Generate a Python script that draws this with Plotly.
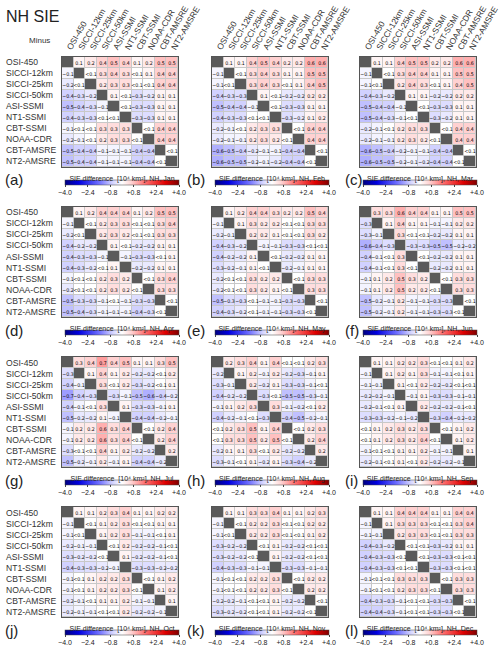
import plotly.graph_objects as go

products = ["OSI-450", "SICCI-12km", "SICCI-25km", "SICCI-50km", "ASI-SSMI",
            "NT1-SSMI", "CBT-SSMI", "NOAA-CDR", "CBT-AMSRE", "NT2-AMSRE"]
months = ["Jan", "Feb", "Mar", "Apr", "May", "Jun",
          "Jul", "Aug", "Sep", "Oct", "Nov", "Dec"]
letters = ["(a)", "(b)", "(c)", "(d)", "(e)", "(f)",
           "(g)", "(h)", "(i)", "(j)", "(k)", "(l)"]
cbar_ticks = [-4.0, -2.4, -0.8, 0.8, 2.4, 4.0]
cbar_ticktext = ["\u22124.0", "\u22122.4", "\u22120.8", "+0.8", "+2.4", "+4.0"]

# "" = diagonal (same product)
jan = [
    ["", "0.1", "0.2", "0.4", "0.5", "0.4", "0.1", "0.2", "0.5", "0.5"],
    ["-0.1", "", "<0.1", "0.3", "0.4", "0.3", "<0.1", "0.1", "0.4", "0.4"],
    ["-0.2", "<0.1", "", "0.2", "0.3", "0.3", "<0.1", "<0.1", "0.4", "0.4"],
    ["-0.4", "-0.3", "-0.2", "", "0.1", "<0.1", "-0.3", "-0.2", "0.1", "0.1"],
    ["-0.5", "-0.4", "-0.3", "-0.1", "", "<0.1", "-0.3", "-0.3", "0.1", "0.1"],
    ["-0.4", "-0.3", "-0.3", "<0.1", "<0.1", "", "-0.3", "-0.3", "0.1", "0.1"],
    ["-0.1", "<0.1", "<0.1", "0.3", "0.3", "0.3", "", "<0.1", "0.4", "0.4"],
    ["-0.2", "-0.1", "<0.1", "0.2", "0.3", "0.3", "<0.1", "", "0.4", "0.4"],
    ["-0.5", "-0.4", "-0.4", "-0.1", "-0.1", "-0.1", "-0.4", "-0.4", "", "<0.1"],
    ["-0.5", "-0.4", "-0.4", "-0.1", "-0.1", "-0.1", "-0.4", "-0.4", "<0.1", ""],
]
feb = [
    ["", "0.1", "0.1", "0.4", "0.5", "0.4", "0.2", "0.2", "0.6", "0.6"],
    ["-0.1", "", "<0.1", "0.3", "0.4", "0.3", "0.1", "0.1", "0.5", "0.5"],
    ["-0.1", "<0.1", "", "0.3", "0.4", "0.3", "<0.1", "0.1", "0.4", "0.5"],
    ["-0.4", "-0.3", "-0.3", "", "0.1", "<0.1", "-0.2", "-0.2", "0.2", "0.2"],
    ["-0.5", "-0.4", "-0.4", "-0.1", "", "<0.1", "-0.3", "-0.3", "0.1", "0.1"],
    ["-0.4", "-0.3", "-0.3", "<0.1", "<0.1", "", "-0.3", "-0.2", "0.1", "0.2"],
    ["-0.2", "-0.1", "<0.1", "0.2", "0.3", "0.3", "", "<0.1", "0.4", "0.4"],
    ["-0.2", "-0.1", "-0.1", "0.2", "0.3", "0.2", "<0.1", "", "0.4", "0.4"],
    ["-0.6", "-0.5", "-0.4", "-0.2", "-0.1", "-0.1", "-0.4", "-0.4", "", "<0.1"],
    ["-0.6", "-0.5", "-0.5", "-0.2", "-0.1", "-0.2", "-0.4", "-0.4", "<0.1", ""],
]
mar = [
    ["", "0.1", "0.1", "0.4", "0.5", "0.5", "0.2", "0.2", "0.6", "0.6"],
    ["-0.1", "", "<0.1", "0.3", "0.4", "0.4", "0.1", "0.1", "0.5", "0.5"],
    ["-0.1", "<0.1", "", "0.2", "0.4", "0.3", "<0.1", "0.1", "0.4", "0.5"],
    ["-0.4", "-0.3", "-0.2", "", "0.1", "0.1", "-0.2", "-0.2", "0.2", "0.2"],
    ["-0.5", "-0.4", "-0.4", "-0.1", "", "<0.1", "-0.3", "-0.3", "0.1", "0.1"],
    ["-0.5", "-0.4", "-0.3", "-0.1", "<0.1", "", "-0.3", "-0.2", "0.1", "0.1"],
    ["-0.2", "-0.1", "<0.1", "0.2", "0.3", "0.3", "", "<0.1", "0.4", "0.4"],
    ["-0.2", "-0.1", "-0.1", "0.2", "0.3", "0.2", "<0.1", "", "0.4", "0.4"],
    ["-0.6", "-0.5", "-0.4", "-0.2", "-0.1", "-0.1", "-0.4", "-0.4", "", "<0.1"],
    ["-0.6", "-0.5", "-0.5", "-0.2", "-0.1", "-0.2", "-0.4", "-0.4", "<0.1", ""],
]
apr = [
    ["", "0.1", "0.2", "0.4", "0.4", "0.4", "0.1", "0.2", "0.5", "0.5"],
    ["-0.1", "", "<0.1", "0.2", "0.3", "0.3", "<0.1", "<0.1", "0.3", "0.4"],
    ["-0.2", "<0.1", "", "0.2", "0.3", "0.2", "<0.1", "<0.1", "0.3", "0.3"],
    ["-0.4", "-0.2", "-0.2", "", "0.1", "<0.1", "-0.2", "-0.2", "0.1", "0.1"],
    ["-0.4", "-0.3", "-0.3", "-0.1", "", "-0.1", "-0.3", "-0.3", "<0.1", "0.1"],
    ["-0.4", "-0.3", "-0.2", "<0.1", "0.1", "", "-0.2", "-0.2", "0.1", "0.1"],
    ["-0.1", "<0.1", "<0.1", "0.2", "0.3", "0.2", "", "<0.1", "0.3", "0.4"],
    ["-0.2", "<0.1", "<0.1", "0.2", "0.3", "0.2", "<0.1", "", "0.3", "0.3"],
    ["-0.5", "-0.3", "-0.3", "-0.1", "<0.1", "-0.1", "-0.3", "-0.3", "", "<0.1"],
    ["-0.5", "-0.4", "-0.3", "-0.1", "-0.1", "-0.1", "-0.4", "-0.3", "<0.1", ""],
]
may = [
    ["", "0.1", "0.2", "0.4", "0.4", "0.3", "0.2", "0.2", "0.5", "0.4"],
    ["-0.1", "", "0.1", "0.3", "0.2", "0.2", "<0.1", "<0.1", "0.3", "0.3"],
    ["-0.2", "-0.1", "", "0.2", "0.2", "0.1", "<0.1", "<0.1", "0.3", "0.2"],
    ["-0.4", "-0.3", "-0.2", "", "-0.1", "-0.1", "-0.3", "-0.3", "<0.1", "<0.1"],
    ["-0.4", "-0.2", "-0.2", "0.1", "", "<0.1", "-0.2", "-0.2", "0.1", "0.1"],
    ["-0.3", "-0.2", "-0.1", "0.1", "<0.1", "", "-0.2", "-0.1", "0.1", "0.1"],
    ["-0.2", "<0.1", "<0.1", "0.3", "0.2", "0.2", "", "<0.1", "0.3", "0.3"],
    ["-0.2", "<0.1", "<0.1", "0.3", "0.2", "0.1", "<0.1", "", "0.3", "0.3"],
    ["-0.5", "-0.3", "-0.3", "<0.1", "-0.1", "-0.1", "-0.3", "-0.3", "", "<0.1"],
    ["-0.4", "-0.3", "-0.2", "<0.1", "-0.1", "-0.1", "-0.3", "-0.3", "<0.1", ""],
]
jun = [
    ["", "0.3", "0.3", "0.6", "0.4", "0.4", "0.1", "0.1", "0.5", "0.5"],
    ["-0.3", "", "0.1", "0.4", "0.1", "0.1", "-0.1", "-0.1", "0.2", "0.2"],
    ["-0.3", "-0.1", "", "0.3", "<0.1", "<0.1", "-0.2", "-0.2", "0.1", "0.1"],
    ["-0.6", "-0.4", "-0.3", "", "-0.3", "-0.3", "-0.5", "-0.5", "-0.2", "-0.2"],
    ["-0.4", "-0.1", "<0.1", "0.3", "", "<0.1", "-0.2", "-0.2", "0.1", "0.1"],
    ["-0.4", "-0.1", "<0.1", "0.3", "<0.1", "", "-0.2", "-0.2", "0.1", "0.1"],
    ["-0.1", "0.1", "0.2", "0.5", "0.3", "0.2", "", "<0.1", "0.3", "0.3"],
    ["-0.1", "0.1", "0.2", "0.5", "0.2", "0.2", "<0.1", "", "0.3", "0.3"],
    ["-0.5", "-0.2", "-0.1", "0.2", "-0.1", "-0.1", "-0.3", "-0.3", "", "<0.1"],
    ["-0.5", "-0.2", "-0.1", "0.2", "-0.1", "-0.1", "-0.3", "-0.3", "<0.1", ""],
]
jul = [
    ["", "0.3", "0.4", "0.7", "0.4", "0.5", "0.1", "0.1", "0.3", "0.5"],
    ["-0.3", "", "0.1", "0.4", "0.1", "0.2", "-0.2", "-0.2", "<0.1", "0.2"],
    ["-0.4", "-0.1", "", "0.3", "<0.1", "0.2", "-0.3", "-0.2", "<0.1", "0.1"],
    ["-0.7", "-0.4", "-0.3", "", "-0.3", "-0.1", "-0.5", "-0.6", "-0.4", "-0.2"],
    ["-0.4", "-0.1", "<0.1", "0.3", "", "0.1", "-0.3", "-0.3", "-0.1", "0.1"],
    ["-0.5", "-0.2", "-0.2", "0.1", "-0.1", "", "-0.4", "-0.4", "-0.2", "-0.1"],
    ["-0.1", "0.2", "0.2", "0.6", "0.3", "0.4", "", "<0.1", "0.2", "0.4"],
    ["-0.1", "0.2", "0.2", "0.6", "0.3", "0.4", "<0.1", "", "0.2", "0.4"],
    ["-0.3", "<0.1", "<0.1", "0.4", "0.1", "0.2", "-0.2", "-0.2", "", "0.2"],
    ["-0.5", "-0.2", "-0.1", "0.2", "-0.1", "0.1", "-0.4", "-0.4", "-0.2", ""],
]
aug = [
    ["", "0.2", "0.3", "0.4", "0.1", "0.4", "<0.1", "<0.1", "0.2", "0.3"],
    ["-0.2", "", "0.1", "0.2", "-0.1", "0.2", "-0.2", "-0.3", "-0.1", "0.1"],
    ["-0.3", "-0.1", "", "0.2", "-0.2", "0.1", "-0.3", "-0.3", "-0.1", "<0.1"],
    ["-0.4", "-0.2", "-0.2", "", "-0.3", "<0.1", "-0.5", "-0.5", "-0.3", "-0.1"],
    ["-0.1", "0.1", "0.2", "0.3", "", "0.3", "-0.1", "-0.2", "<0.1", "0.2"],
    ["-0.4", "-0.2", "-0.1", "<0.1", "-0.3", "", "-0.4", "-0.5", "-0.2", "-0.1"],
    ["<0.1", "0.2", "0.3", "0.5", "0.1", "0.4", "", "<0.1", "0.2", "0.3"],
    ["<0.1", "0.3", "0.3", "0.5", "0.2", "0.5", "<0.1", "", "0.2", "0.4"],
    ["-0.2", "0.1", "0.1", "0.3", "<0.1", "0.2", "-0.2", "-0.2", "", "0.2"],
    ["-0.3", "-0.1", "<0.1", "0.1", "-0.2", "0.1", "-0.3", "-0.4", "-0.2", ""],
]
sep = [
    ["", "0.1", "0.1", "0.2", "0.2", "0.3", "<0.1", "<0.1", "0.1", "0.2"],
    ["-0.1", "", "0.1", "0.2", "0.1", "0.3", "-0.1", "-0.1", "<0.1", "0.1"],
    ["-0.1", "-0.1", "", "0.1", "<0.1", "0.2", "-0.2", "-0.2", "<0.1", "<0.1"],
    ["-0.2", "-0.2", "-0.1", "", "-0.1", "0.1", "-0.3", "-0.3", "-0.1", "-0.1"],
    ["-0.2", "-0.1", "<0.1", "0.1", "", "0.2", "-0.2", "-0.2", "-0.1", "<0.1"],
    ["-0.3", "-0.3", "-0.2", "-0.1", "-0.2", "", "-0.3", "-0.4", "-0.2", "-0.2"],
    ["<0.1", "0.1", "0.2", "0.3", "0.2", "0.3", "", "<0.1", "0.1", "0.2"],
    ["<0.1", "0.1", "0.2", "0.3", "0.2", "0.4", "<0.1", "", "0.1", "0.2"],
    ["-0.1", "<0.1", "<0.1", "0.1", "0.1", "0.2", "-0.1", "-0.1", "", "0.1"],
    ["-0.2", "-0.1", "<0.1", "0.1", "<0.1", "0.2", "-0.2", "-0.2", "-0.1", ""],
]
oct_ = [
    ["", "0.1", "0.1", "0.2", "0.3", "0.4", "0.1", "0.1", "0.2", "0.2"],
    ["-0.1", "", "<0.1", "0.1", "0.2", "0.3", "<0.1", "<0.1", "0.1", "0.1"],
    ["-0.1", "<0.1", "", "0.1", "0.2", "0.3", "-0.1", "-0.1", "<0.1", "0.1"],
    ["-0.2", "-0.1", "-0.1", "", "<0.1", "0.2", "-0.2", "-0.2", "-0.1", "<0.1"],
    ["-0.3", "-0.2", "-0.2", "<0.1", "", "0.1", "-0.2", "-0.2", "-0.1", "<0.1"],
    ["-0.4", "-0.3", "-0.3", "-0.2", "-0.1", "", "-0.3", "-0.3", "-0.2", "-0.2"],
    ["-0.1", "<0.1", "0.1", "0.2", "0.2", "0.3", "", "<0.1", "0.1", "0.2"],
    ["-0.1", "<0.1", "0.1", "0.2", "0.2", "0.3", "<0.1", "", "0.1", "0.2"],
    ["-0.2", "-0.1", "<0.1", "0.1", "0.1", "0.2", "-0.1", "-0.1", "", "0.1"],
    ["-0.2", "-0.1", "-0.1", "<0.1", "<0.1", "0.2", "-0.2", "-0.2", "-0.1", ""],
]
nov = [
    ["", "0.1", "0.1", "0.3", "0.3", "0.4", "0.1", "0.1", "0.2", "0.3"],
    ["-0.1", "", "<0.1", "0.2", "0.2", "0.3", "<0.1", "<0.1", "0.2", "0.2"],
    ["-0.1", "<0.1", "", "0.2", "0.2", "0.3", "<0.1", "<0.1", "0.1", "0.2"],
    ["-0.3", "-0.2", "-0.2", "", "<0.1", "0.1", "-0.2", "-0.2", "<0.1", "<0.1"],
    ["-0.3", "-0.2", "-0.2", "<0.1", "", "0.1", "-0.2", "-0.2", "<0.1", "<0.1"],
    ["-0.4", "-0.3", "-0.3", "-0.1", "-0.1", "", "-0.3", "-0.3", "-0.1", "-0.1"],
    ["-0.1", "<0.1", "<0.1", "0.2", "0.2", "0.3", "", "<0.1", "0.2", "0.2"],
    ["-0.1", "<0.1", "<0.1", "0.2", "0.2", "0.3", "<0.1", "", "0.2", "0.2"],
    ["-0.2", "-0.2", "-0.1", "<0.1", "<0.1", "0.1", "-0.2", "-0.2", "", "<0.1"],
    ["-0.3", "-0.2", "-0.2", "<0.1", "<0.1", "0.1", "-0.2", "-0.2", "<0.1", ""],
]
dec = [
    ["", "0.1", "0.1", "0.4", "0.4", "0.4", "0.1", "0.1", "0.4", "0.4"],
    ["-0.1", "", "0.1", "0.3", "0.3", "0.3", "<0.1", "<0.1", "0.3", "0.4"],
    ["-0.1", "-0.1", "", "0.2", "0.3", "0.3", "<0.1", "<0.1", "0.3", "0.3"],
    ["-0.4", "-0.3", "-0.2", "", "<0.1", "<0.1", "-0.3", "-0.2", "0.1", "0.1"],
    ["-0.4", "-0.3", "-0.3", "<0.1", "", "<0.1", "-0.3", "-0.3", "<0.1", "<0.1"],
    ["-0.4", "-0.3", "-0.3", "<0.1", "<0.1", "", "-0.3", "-0.3", "<0.1", "<0.1"],
    ["-0.1", "<0.1", "<0.1", "0.3", "0.3", "0.3", "", "<0.1", "0.3", "0.3"],
    ["-0.1", "<0.1", "<0.1", "0.2", "0.3", "0.3", "<0.1", "", "0.3", "0.3"],
    ["-0.4", "-0.3", "-0.3", "-0.1", "<0.1", "<0.1", "-0.3", "-0.3", "", "<0.1"],
    ["-0.4", "-0.4", "-0.3", "-0.1", "<0.1", "<0.1", "-0.3", "-0.3", "<0.1", ""],
]
panels = [jan, feb, mar, apr, may, jun, jul, aug, sep, oct_, nov, dec]

# ---------------- styling ----------------
W, H = 500, 649
FONT = "Liberation Sans Narrow, DejaVu Sans Condensed, Liberation Sans, Arial, sans-serif"
LFONT = "Liberation Sans, Arial, sans-serif"
col_left = [62, 212, 360]
row_top = [57, 207, 357, 507]
pw, ph = 116, 110
scale = 0.6  # cell units per colour-bar unit

colorscale = [
    [0.0, "#000080"], [0.12, "#0000e0"], [0.3, "#7070ff"], [0.42, "#d4d4ff"],
    [0.5, "#ffffff"], [0.58, "#ffd4d4"], [0.7, "#ff7070"], [0.88, "#e00000"],
    [1.0, "#800000"],
]


def parse(s):
    if s == "":
        return None
    if s.startswith("<"):
        return 0.0
    return float(s)


def disp(s):
    return s.replace("-", "\u2212")


fig = go.Figure()
annotations = []
n = len(products)
idx = list(range(n))

for k, tab in enumerate(panels):
    r, c = divmod(k, 3)
    ax = "" if k == 0 else str(k + 1)
    x0 = col_left[c] / W
    x1 = (col_left[c] + pw) / W
    y1 = 1 - row_top[r] / H
    y0 = 1 - (row_top[r] + ph) / H
    z = [[parse(s) for s in row] for row in tab]
    txt = [[disp(s) for s in row] for row in tab]
    diag = [[1 if i == j else None for j in idx] for i in idx]
    cx = (col_left[c] + pw / 2 + 2) / W
    cb_y = 1 - (row_top[r] + ph + 5) / H
    fig.add_trace(go.Heatmap(
        z=z, x=idx, y=idx, text=txt, texttemplate="%{text}",
        textfont=dict(size=5.2, color="black", family=FONT),
        colorscale=colorscale, zmin=-4 * scale, zmax=4 * scale,
        xgap=1, ygap=1, xaxis="x" + ax, yaxis="y" + ax, hoverinfo="skip",
        colorbar=dict(
            orientation="h", x=cx, xanchor="center", y=cb_y, yanchor="top",
            lenmode="pixels", len=114, thickness=5, xpad=0, ypad=0,
            outlinewidth=0.5, outlinecolor="#444",
            tickvals=[t * scale for t in cbar_ticks], ticktext=cbar_ticktext,
            tickfont=dict(size=7, family=LFONT, color="#222"), ticks="outside",
            ticklen=2, tickcolor="#444",
            title=dict(text="SIE difference  [10\u2074 km\u00b2], NH, " + months[k],
                       side="top", font=dict(size=7, family=LFONT, color="#222")),
        ),
    ))
    fig.add_trace(go.Heatmap(
        z=diag, x=idx, y=idx, colorscale=[[0, "#5a5a5a"], [1, "#5a5a5a"]],
        showscale=False, xgap=1, ygap=1, xaxis="x" + ax, yaxis="y" + ax,
        hoverinfo="skip"))
    top_row = (r == 0)
    fig.update_layout(**{
        "xaxis" + ax: dict(domain=[x0, x1], range=[-0.5, n - 0.5], anchor="y" + ax,
                           side="top", showgrid=False, zeroline=False, automargin=False,
                           showticklabels=top_row, tickvals=idx, ticktext=products,
                           tickangle=-60, ticks="",
                           tickfont=dict(size=8.4, family=LFONT, color="#333"),
                           showline=True, mirror=True, linecolor="#555", linewidth=1),
        "yaxis" + ax: dict(domain=[y0, y1], range=[n - 0.5, -0.5], anchor="x" + ax,
                           showgrid=False, zeroline=False, showticklabels=False,
                           automargin=False,
                           showline=True, mirror=True, linecolor="#555", linewidth=1),
    })
    if c == 0:
        for i, name in enumerate(products):
            annotations.append(dict(
                text=name, x=4 / W, xref="paper", xanchor="left",
                y=i, yref="y" + ax, yanchor="middle", showarrow=False,
                font=dict(size=8.6, family=LFONT, color="#333")))
    lx = [3, 185, 343][c]
    annotations.append(dict(
        text=letters[k], x=lx / W, xref="paper", xanchor="left",
        y=1 - (row_top[r] + ph + 13) / H, yref="paper", yanchor="middle",
        showarrow=False, font=dict(size=15, family=LFONT, color="#222")))

annotations.append(dict(text="NH SIE", x=4 / W, y=1 - 16 / H, xref="paper", yref="paper",
                        xanchor="left", yanchor="middle", showarrow=False,
                        font=dict(size=16, family=LFONT, color="#222")))
annotations.append(dict(text="Minus", x=27 / W, y=1 - 40 / H, xref="paper", yref="paper",
                        xanchor="left", yanchor="middle", showarrow=False,
                        font=dict(size=8, family=LFONT, color="#333")))

fig.update_layout(width=W, height=H, autosize=False,
                  margin=dict(l=0, r=0, t=0, b=0),
                  paper_bgcolor="white", plot_bgcolor="#c8c8c8",
                  showlegend=False, annotations=annotations)
fig.write_html("out.html", config={"displayModeBar": False},
               post_script="document.body.style.margin='0px';"
                           "document.body.style.overflow='hidden';")
